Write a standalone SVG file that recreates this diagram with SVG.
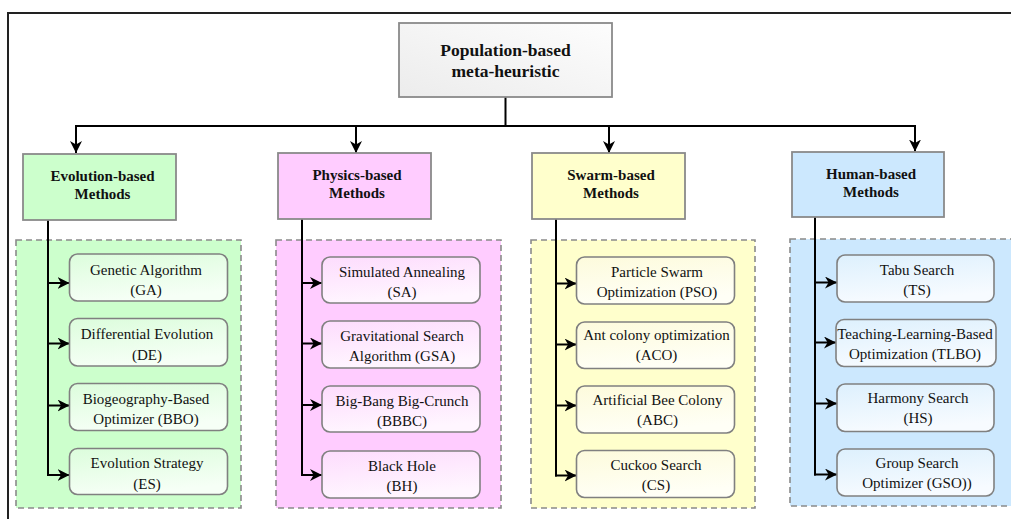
<svg xmlns="http://www.w3.org/2000/svg" width="1011" height="519" viewBox="0 0 1011 519">
<style>
text{font-family:"Liberation Serif","Tinos","Times New Roman","DejaVu Serif",serif;fill:#111;text-anchor:middle}
.t{font-size:17.5px;font-weight:bold}
.c{font-size:15px;font-weight:bold}
.k{font-size:15px}
.cat{stroke:#8a8a8a;stroke-width:1.8}
.cont{stroke:#8a8a8a;stroke-width:1.6;stroke-dasharray:6 4}
.ch{stroke:#808080;stroke-width:1.6}
.con{fill:none;stroke:#000;stroke-width:2;marker-end:url(#ah)}
.ln{fill:none;stroke:#000;stroke-width:2}
</style>
<defs>
<marker id="ah" markerUnits="userSpaceOnUse" markerWidth="12" markerHeight="12" refX="10" refY="5" orient="auto" viewBox="0 0 10 10">
<path d="M0,0 L10,5 L0,10 L3,5 Z" fill="#000"/>
</marker>
<linearGradient id="gTop" x1="0" y1="1" x2="1" y2="0"><stop offset="0" stop-color="#ececec"/><stop offset="1" stop-color="#fdfdfd"/></linearGradient>
<linearGradient id="gG" x1="0" y1="0" x2="0.3" y2="1"><stop offset="0" stop-color="#dcfddc"/><stop offset="1" stop-color="#f6fff6"/></linearGradient>
<linearGradient id="gP" x1="0" y1="0" x2="0.3" y2="1"><stop offset="0" stop-color="#fddcfd"/><stop offset="1" stop-color="#fff6ff"/></linearGradient>
<linearGradient id="gY" x1="0" y1="0" x2="0.3" y2="1"><stop offset="0" stop-color="#fdfbdc"/><stop offset="1" stop-color="#fffff6"/></linearGradient>
<linearGradient id="gB" x1="0" y1="0" x2="0.3" y2="1"><stop offset="0" stop-color="#ddf0fd"/><stop offset="1" stop-color="#f7fbff"/></linearGradient>
</defs>
<rect x="0" y="0" width="1011" height="519" fill="#fff"/>
<rect x="8" y="13" width="1030" height="540" fill="none" stroke="#222" stroke-width="2"/>

<g id="containers">
<rect id="cont-evolution" class="cont" x="16" y="240" width="225" height="268" fill="#ccffcc"/>
<rect id="cont-physics" class="cont" x="276" y="240" width="225" height="268" fill="#ffccff"/>
<rect id="cont-swarm" class="cont" x="531" y="240" width="224" height="268" fill="#ffffcc"/>
<rect id="cont-human" class="cont" x="790" y="239" width="240" height="267" fill="#cce8fe"/>
</g>

<g id="connectors">
<path class="con" d="M505.5 97 V126 H76 V153"/>
<path class="con" d="M505.5 126 H356 V153"/>
<path class="con" d="M505.5 126 H609 V153"/>
<path class="con" d="M505.5 126 H915 V151.5"/>
<path class="ln" d="M48 220 V476"/>
<path class="con" d="M48 283 H69.5"/>
<path class="con" d="M48 343.5 H69.5"/>
<path class="con" d="M48 405.5 H69.5"/>
<path class="con" d="M47 475 H69.5"/>
<path class="ln" d="M302 219 V476"/>
<path class="con" d="M302 283 H322"/>
<path class="con" d="M302 343.5 H322"/>
<path class="con" d="M302 405 H322"/>
<path class="con" d="M301 475 H322"/>
<path class="ln" d="M556 219 V476.5"/>
<path class="con" d="M556 283.5 H576.5"/>
<path class="con" d="M556 344.5 H576.5"/>
<path class="con" d="M556 405.5 H576.5"/>
<path class="con" d="M555 475.5 H576.5"/>
<path class="ln" d="M815 217 V475.5"/>
<path class="con" d="M815 282.5 H837"/>
<path class="con" d="M815 342.5 H836"/>
<path class="con" d="M815 403.5 H837"/>
<path class="con" d="M814 474.5 H837"/>
</g>

<g id="root">
<rect x="399" y="23" width="213" height="74" fill="url(#gTop)" stroke="#8a8a8a" stroke-width="1.8"/>
<text class="t" x="505.5" y="56">Population-based</text>
<text class="t" x="505.5" y="77">meta-heuristic</text>
</g>

<g id="evolution">
<rect class="cat" x="23" y="154" width="153" height="66" fill="#ccffcc"/>
<text class="c" x="102.5" y="181">Evolution-based</text>
<text class="c" x="102.5" y="199">Methods</text>
</g>
<g id="physics">
<rect class="cat" x="278" y="153" width="153" height="66" fill="#ffccff"/>
<text class="c" x="357" y="180">Physics-based</text>
<text class="c" x="357" y="198">Methods</text>
</g>
<g id="swarm">
<rect class="cat" x="532" y="153" width="153" height="66" fill="#ffffcc"/>
<text class="c" x="611" y="180">Swarm-based</text>
<text class="c" x="611" y="198">Methods</text>
</g>
<g id="human">
<rect class="cat" x="792" y="152" width="152" height="65" fill="#cce8fe"/>
<text class="c" x="871" y="178.5">Human-based</text>
<text class="c" x="871" y="196.5">Methods</text>
</g>

<g id="ga"><rect class="ch" x="69.5" y="254" width="158" height="47" rx="8" fill="url(#gG)"/><text class="k" x="146" y="274.5">Genetic Algorithm</text><text class="k" x="146" y="295">(GA)</text></g>
<g id="de"><rect class="ch" x="69.5" y="318.5" width="158" height="47.5" rx="8" fill="url(#gG)"/><text class="k" x="147" y="339">Differential Evolution</text><text class="k" x="147" y="359.5">(DE)</text></g>
<g id="bbo"><rect class="ch" x="69.5" y="383.5" width="158" height="47" rx="8" fill="url(#gG)"/><text class="k" x="146" y="403.5">Biogeography-Based</text><text class="k" x="146" y="424">Optimizer (BBO)</text></g>
<g id="es"><rect class="ch" x="69.5" y="448.5" width="158" height="46" rx="8" fill="url(#gG)"/><text class="k" x="147" y="468">Evolution Strategy</text><text class="k" x="147" y="488.5">(ES)</text></g>

<g id="sa"><rect class="ch" x="322" y="257" width="158" height="46" rx="8" fill="url(#gP)"/><text class="k" x="402" y="277">Simulated Annealing</text><text class="k" x="402" y="297">(SA)</text></g>
<g id="gsa"><rect class="ch" x="322" y="321" width="158" height="47" rx="8" fill="url(#gP)"/><text class="k" x="402" y="341">Gravitational Search</text><text class="k" x="402" y="361">Algorithm (GSA)</text></g>
<g id="bbbc"><rect class="ch" x="322" y="386" width="158" height="46" rx="8" fill="url(#gP)"/><text class="k" x="402" y="406">Big-Bang Big-Crunch</text><text class="k" x="402" y="426">(BBBC)</text></g>
<g id="bh"><rect class="ch" x="322" y="451" width="158" height="47" rx="8" fill="url(#gP)"/><text class="k" x="402" y="471">Black Hole</text><text class="k" x="402" y="491">(BH)</text></g>

<g id="pso"><rect class="ch" x="576.5" y="257" width="158" height="47" rx="8" fill="url(#gY)"/><text class="k" x="657" y="277">Particle Swarm</text><text class="k" x="657" y="297">Optimization (PSO)</text></g>
<g id="aco"><rect class="ch" x="576.5" y="322" width="158" height="46.5" rx="8" fill="url(#gY)"/><text class="k" x="656.5" y="340">Ant colony optimization</text><text class="k" x="656.5" y="360">(ACO)</text></g>
<g id="abc"><rect class="ch" x="576.5" y="386" width="158" height="47" rx="8" fill="url(#gY)"/><text class="k" x="657.5" y="405">Artificial Bee Colony</text><text class="k" x="657.5" y="425">(ABC)</text></g>
<g id="cs"><rect class="ch" x="576.5" y="450.5" width="158" height="47" rx="8" fill="url(#gY)"/><text class="k" x="656" y="469.5">Cuckoo Search</text><text class="k" x="656" y="489.5">(CS)</text></g>

<g id="ts"><rect class="ch" x="837" y="255" width="157" height="47" rx="8" fill="url(#gB)"/><text class="k" x="917" y="274.5">Tabu Search</text><text class="k" x="917" y="294.5">(TS)</text></g>
<g id="tlbo"><rect class="ch" x="836" y="319.5" width="160" height="47" rx="8" fill="url(#gB)"/><text class="k" x="915" y="339">Teaching-Learning-Based</text><text class="k" x="915" y="359">Optimization (TLBO)</text></g>
<g id="hs"><rect class="ch" x="837" y="384" width="157" height="47.5" rx="8" fill="url(#gB)"/><text class="k" x="918" y="403">Harmony Search</text><text class="k" x="918" y="423">(HS)</text></g>
<g id="gso"><rect class="ch" x="837" y="449" width="157" height="47" rx="8" fill="url(#gB)"/><text class="k" x="917" y="468">Group Search</text><text class="k" x="917" y="488">Optimizer (GSO))</text></g>
</svg>
